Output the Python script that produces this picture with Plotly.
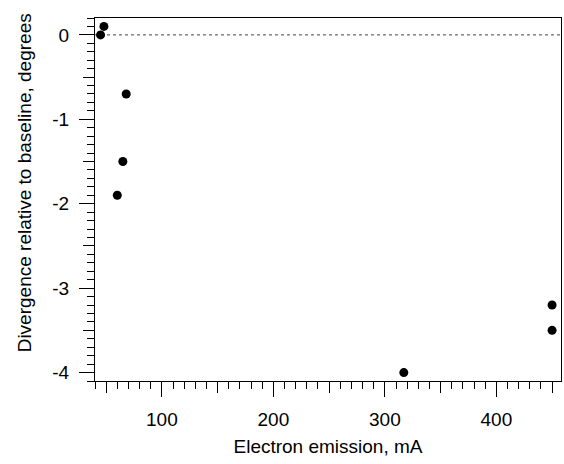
import plotly.graph_objects as go

# Measured divergence vs. electron emission
emission_ma = [45, 48, 68, 65, 60, 317, 450, 450]
divergence_deg = [0.0, 0.1, -0.7, -1.5, -1.9, -4.0, -3.2, -3.5]

x_range = [40, 458]
y_range = [-4.1, 0.2]

x_major = [100, 200, 300, 400]
x_major_text = ["100", "200", "300", "400"]
x_mid = [50, 150, 250, 350, 450]

y_major = [0, -1, -2, -3, -4]
y_major_text = ["0", "-1", "-2", "-3", "-4"]
y_mid = [-0.5, -1.5, -2.5, -3.5]

FONT = "Liberation Sans, Arial, Helvetica, sans-serif"

fig = go.Figure()

# zero reference line
fig.add_trace(go.Scatter(
    x=x_range, y=[0, 0], mode="lines",
    line=dict(color="#444444", width=1, dash="dot"),
    hoverinfo="skip", showlegend=False,
))

fig.add_trace(go.Scatter(
    x=emission_ma, y=divergence_deg, mode="markers",
    marker=dict(color="black", size=9),
    showlegend=False,
))

# helper trace so the overlay axes (intermediate ticks) get drawn
fig.add_trace(go.Scatter(x=[None], y=[None], xaxis="x2", yaxis="y2",
                         showlegend=False, hoverinfo="skip"))

axis_common = dict(
    showgrid=False, zeroline=False, showline=True, linecolor="black",
    linewidth=1, mirror=True, ticks="outside", ticklen=15, tickwidth=1,
    tickcolor="black", tickfont=dict(family=FONT, size=19, color="black"),
)

fig.update_layout(
    width=564, height=464,
    margin=dict(l=95, r=3, t=18, b=83),
    paper_bgcolor="white", plot_bgcolor="white",
    font=dict(family=FONT, color="black"),
    xaxis=dict(
        range=x_range, tickmode="array", tickvals=x_major, ticktext=x_major_text,
        minor=dict(ticks="outside", ticklen=7, tickwidth=1, tickcolor="black",
                   dtick=10, tick0=0),
        title=dict(text="Electron emission, mA", font=dict(size=19), standoff=10),
        ticklabelstandoff=6,
        **axis_common,
    ),
    yaxis=dict(
        range=y_range, tickmode="array", tickvals=y_major, ticktext=y_major_text,
        minor=dict(ticks="outside", ticklen=7, tickwidth=1, tickcolor="black",
                   dtick=0.1, tick0=0),
        ticklabelstandoff=6,
        **axis_common,
    ),
    xaxis2=dict(
        overlaying="x", side="bottom", anchor="y2", range=x_range,
        tickmode="array", tickvals=x_mid, showticklabels=False,
        ticks="outside", ticklen=11, tickwidth=1, tickcolor="black",
        showgrid=False, zeroline=False, showline=False,
    ),
    yaxis2=dict(
        overlaying="y", side="left", anchor="x2", range=y_range,
        tickmode="array", tickvals=y_mid, showticklabels=False,
        ticks="outside", ticklen=11, tickwidth=1, tickcolor="black",
        showgrid=False, zeroline=False, showline=False,
    ),
    annotations=[dict(
        text="Divergence relative to baseline, degrees",
        xref="paper", yref="paper", x=-0.152, y=0.545,
        xanchor="center", yanchor="middle", textangle=-90,
        showarrow=False, font=dict(family=FONT, size=19, color="black"),
    )],
)

fig.write_html("out.html")
